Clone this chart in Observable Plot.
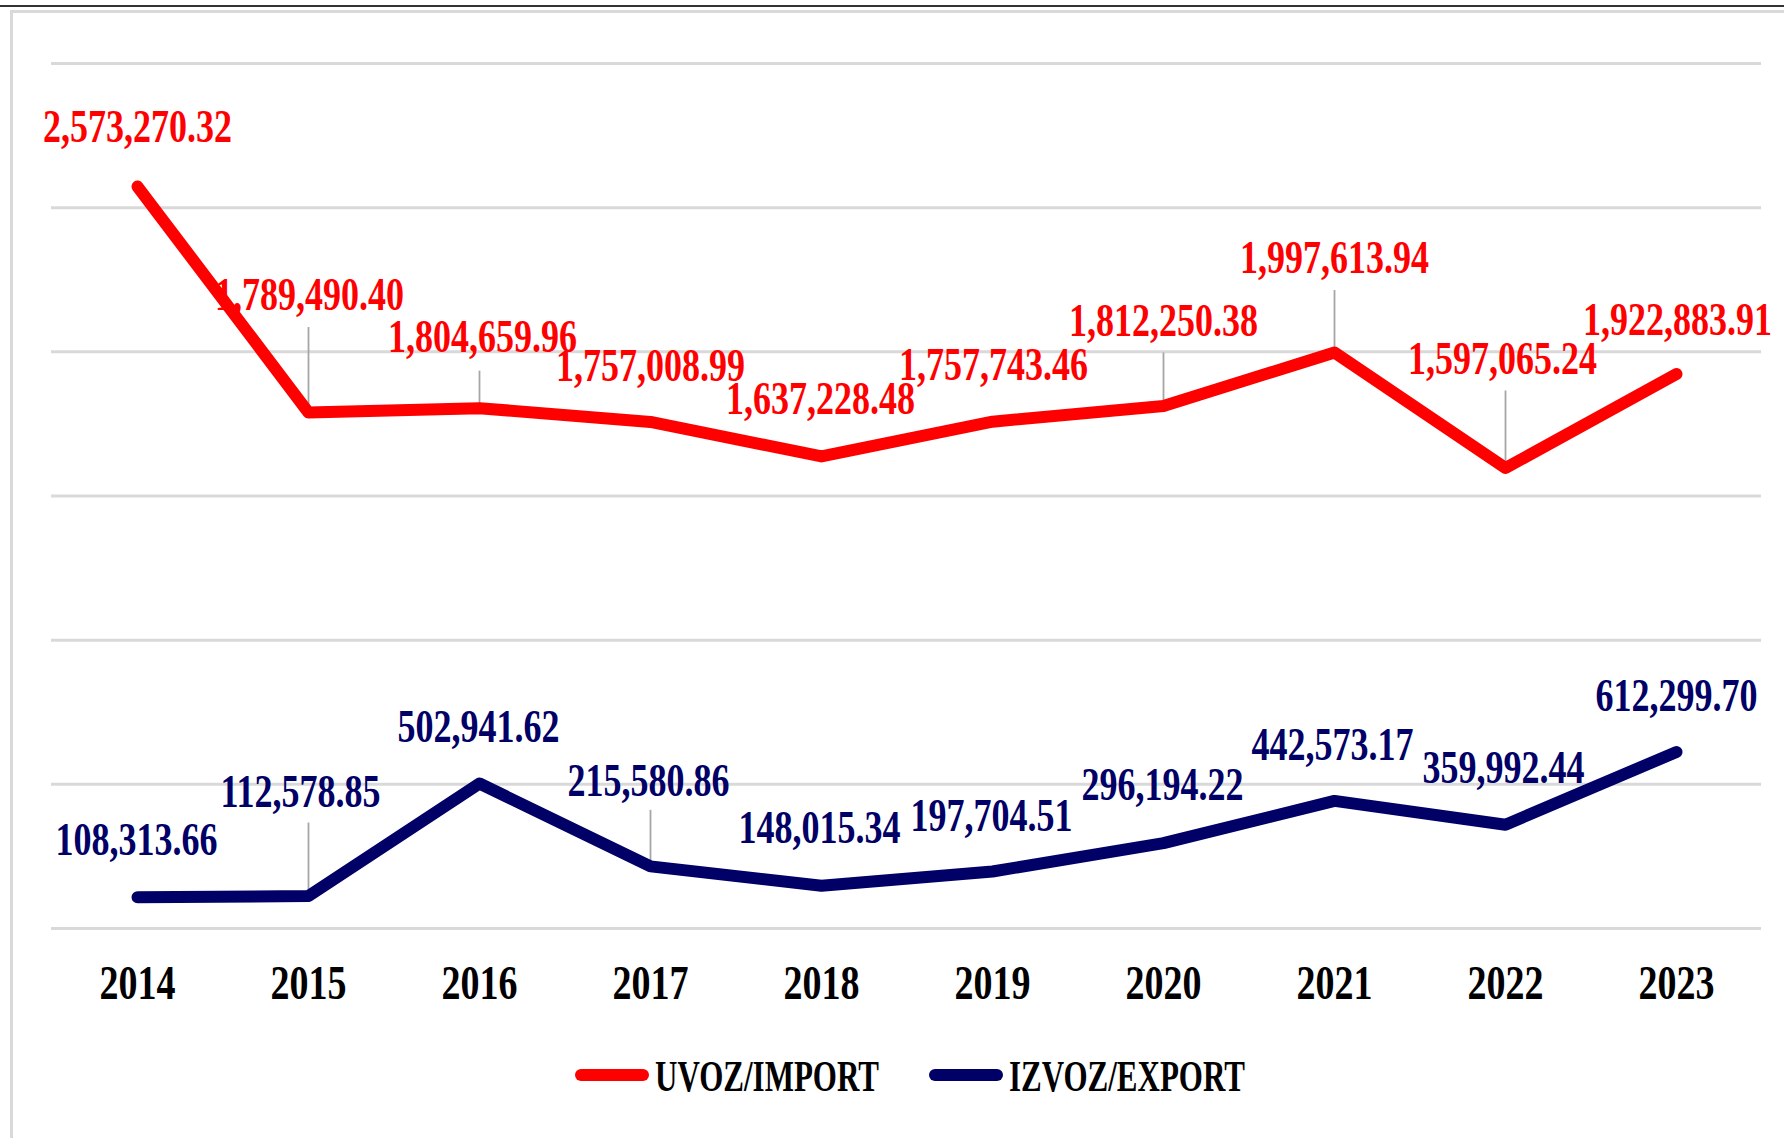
<!DOCTYPE html>
<html>
<head>
<meta charset="utf-8">
<script src="https://cdn.jsdelivr.net/npm/d3@7"></script>
<script src="https://cdn.jsdelivr.net/npm/@observablehq/plot@0.6"></script>
<style>
  body { margin: 0; background: #fff; font-family: "Liberation Serif", serif; }
  #wrap { position: relative; width: 1784px; height: 1138px; overflow: hidden; background: #fff; }
  #topline { position: absolute; left: 0; top: 5px; width: 1784px; height: 0; border-top: 2px solid #333; }
  #frame { position: absolute; left: 10px; top: 10px; width: 1820px; height: 1200px; border-left: 3px solid #d9d9d9; border-top: 3px solid #d9d9d9; }
  #chart { position: absolute; left: 0; top: 0; }
  #legend { position: absolute; left: 0; top: 1042px; width: 1820px; height: 66px; display: flex; justify-content: center; align-items: center; gap: 50px; }
  .item { display: flex; align-items: center; gap: 6px; }
  .sw { width: 74px; height: 12px; border-radius: 6px; }
  .lab { display: inline-block; font-family: "Liberation Serif", serif; font-weight: bold; font-size: 31px; color: #000; transform: scaleY(1.45); line-height: 1; }
</style>
</head>
<body>
<div id="wrap">
  <div id="topline"></div>
  <div id="frame"></div>
  <div id="chart"></div>
  <div id="legend"></div>
</div>
<script>
// ---- data ----
const years = ["2014", "2015", "2016", "2017", "2018", "2019", "2020", "2021", "2022", "2023"];
const importValues = [2573270.32, 1789490.40, 1804659.96, 1757008.99, 1637228.48, 1757743.46, 1812250.38, 1997613.94, 1597065.24, 1922883.91];
const exportValues = [108313.66, 112578.85, 502941.62, 215580.86, 148015.34, 197704.51, 296194.22, 442573.17, 359992.44, 612299.70];
const seriesNames = ["UVOZ/IMPORT", "IZVOZ/EXPORT"];
const gridTicks = [0, 500000, 1000000, 1500000, 2000000, 2500000, 3000000];

// ---- label placement (pixels, style only) ----
const importLabelDx = [0, 1, 3, 0, -1, 1, 0, 0, -3, 1];
const importLabelDy = [-59, -117, -71, -56, -57, -56, -85, -94, -109, -54];
const importLeader = [0, 85, 37, 0, 0, 0, 53, 62, 77, 0];
const exportLabelDx = [-1, -8, -1, -2, -2, -1, -1, -2, -2, 0];
const exportLabelDy = [-57, -104, -56, -85, -58, -55, -58, -56, -56, -56];
const exportLeader = [0, 73, 0, 56, 0, 0, 0, 0, 0, 0];

const colors = ["#ff0000", "#000066"];
const fmt = d3.format(",.2f");
const FONT = "Liberation Serif";
const LABEL_SIZE = 36, TICK_SIZE = 38;
const stretch = {[LABEL_SIZE]: 1.28, [TICK_SIZE]: 1.25};

const W = 1784, H = 1030, mT = 63, mB = H - 928, mL = 51, mR = W - 1761;
const yMax = 3000000;
const unitsPerPx = yMax / (H - mT - mB);

const imp = years.map((y, i) => ({year: y, value: importValues[i], dx: importLabelDx[i], dy: importLabelDy[i], leader: importLeader[i]}));
const exp = years.map((y, i) => ({year: y, value: exportValues[i], dx: exportLabelDx[i], dy: exportLabelDy[i], leader: exportLeader[i]}));

function labelMarks(data, color) {
  return data.map(d => Plot.text([d], {
    x: "year", y: "value", text: r => fmt(r.value),
    dx: d.dx, dy: d.dy, fill: color,
    fontSize: LABEL_SIZE, fontWeight: "bold", fontFamily: FONT,
    textAnchor: "middle", lineAnchor: "middle"
  }));
}
function leaderMarks(data) {
  return Plot.ruleX(data.filter(d => d.leader > 0), {
    x: "year", y1: "value", y2: d => d.value + d.leader * unitsPerPx,
    stroke: "#a6a6a6", strokeWidth: 1.8
  });
}

const chart = Plot.plot({
  width: W, height: H,
  marginTop: mT, marginBottom: mB, marginLeft: mL, marginRight: mR,
  style: {background: "transparent", color: "#000", overflow: "visible"},
  x: {type: "point", domain: years, padding: 0.5, label: null},
  y: {domain: [0, yMax], axis: null},
  marks: [
    Plot.gridY(gridTicks, {stroke: "#d9d9d9", strokeWidth: 3, strokeOpacity: 1}),
    Plot.axisX({tickSize: 0, tickPadding: 37, fontSize: TICK_SIZE, fontWeight: "bold", fontFamily: FONT, fill: "#000", label: null}),
    leaderMarks(imp),
    leaderMarks(exp),
    Plot.line(imp, {x: "year", y: "value", stroke: colors[0], strokeWidth: 12, strokeLinecap: "round", strokeLinejoin: "round"}),
    Plot.line(exp, {x: "year", y: "value", stroke: colors[1], strokeWidth: 12, strokeLinecap: "round", strokeLinejoin: "round"}),
    ...labelMarks(imp, colors[0]),
    ...labelMarks(exp, colors[1])
  ]
});
document.getElementById("chart").appendChild(chart);

// stretch the text vertically to mimic the condensed bold serif of the original
chart.querySelectorAll("text").forEach(t => {
  const g = t.closest("g");
  const fs = parseFloat((g && g.getAttribute("font-size")) || t.getAttribute("font-size") || LABEL_SIZE);
  const s = stretch[fs] || 1.28;
  const tr = t.getAttribute("transform");
  if (tr) {
    t.setAttribute("transform", tr + ` scale(1,${s})`);
  } else {
    const x = +(t.getAttribute("x") || 0), y = +(t.getAttribute("y") || 0);
    t.setAttribute("transform", `translate(${x},${y}) scale(1,${s}) translate(${-x},${-y})`);
  }
});

// legend
const legend = document.getElementById("legend");
seriesNames.forEach((name, i) => {
  const item = document.createElement("div");
  item.className = "item";
  const sw = document.createElement("span");
  sw.className = "sw";
  sw.style.background = colors[i];
  const lab = document.createElement("span");
  lab.className = "lab";
  lab.textContent = name;
  item.appendChild(sw);
  item.appendChild(lab);
  legend.appendChild(item);
});
</script>
</body>
</html>
